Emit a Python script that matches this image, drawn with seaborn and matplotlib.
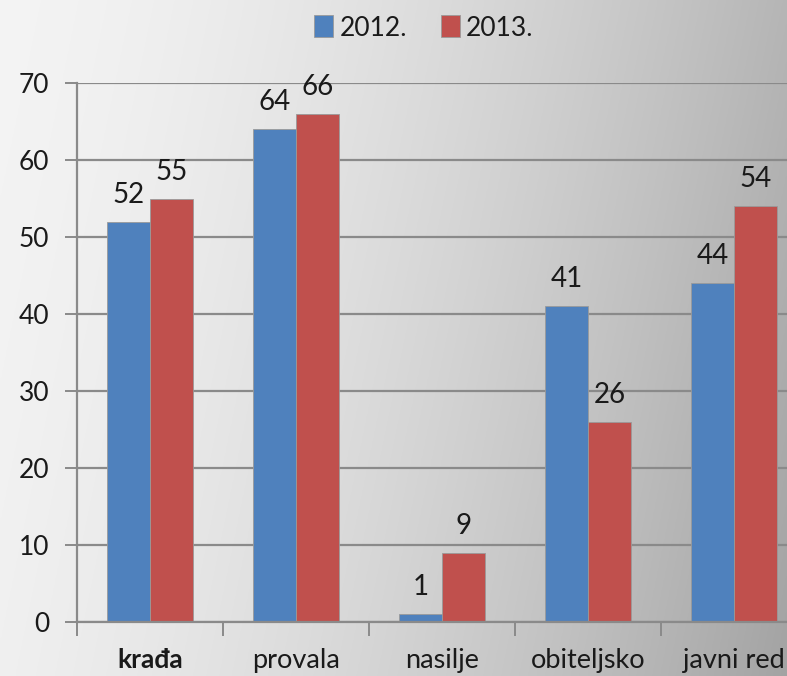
import numpy as np
import pandas as pd
import matplotlib
matplotlib.use("Agg")
import matplotlib.pyplot as plt
import seaborn as sns

categories = ["krađa", "provala", "nasilje", "obiteljsko", "javni red"]
years = ["2012.", "2013."]
values_2012 = [52, 64, 1, 41, 44]
values_2013 = [55, 66, 9, 26, 54]
colors = ["#4F81BD", "#C0504D"]

df = pd.DataFrame({
    "cat": categories * 2,
    "year": [years[0]] * 5 + [years[1]] * 5,
    "val": values_2012 + values_2013,
})

sns.set_theme(style="white")
plt.rcParams["font.family"] = ["Lato", "DejaVu Sans"]

W, H = 787, 676
fig = plt.figure(figsize=(W / 100, H / 100), dpi=100)

# gradient background
bg = fig.add_axes([0, 0, 1, 1])
xx, yy = np.meshgrid(np.linspace(0, 1, 400), np.linspace(0, 1, 400))
g = 0.85 * xx + 0.15 * yy
light = np.array([0.955, 0.955, 0.955])
dark = np.array([0.64, 0.64, 0.64])
t = np.clip(g, 0, 1) ** 1.6
img = light[None, None, :] * (1 - t[..., None]) + dark[None, None, :] * t[..., None]
bg.imshow(img, aspect="auto", extent=[0, 1, 0, 1], origin="upper")
bg.axis("off")

ax = fig.add_axes([77 / W, 1 - 622 / H, (807 - 77) / W, (622 - 83) / H])
ax.patch.set_alpha(0)
sns.barplot(data=df, x="cat", y="val", hue="year", palette=colors, width=0.59,
            saturation=1, ax=ax, edgecolor="#9a9a9a", linewidth=0.6)
ax.set_ylim(0, 70)
ax.set_xlim(-0.5, 4.5)
ax.set_yticks(range(0, 71, 10))
ax.set_xlabel("")
ax.set_ylabel("")
ax.yaxis.grid(True, color="#8a8a8a", linewidth=1.6)
ax.set_axisbelow(True)
for s in ["top", "right"]:
    ax.spines[s].set_visible(False)
for s in ["left", "bottom"]:
    ax.spines[s].set_color("#8a8a8a")
    ax.spines[s].set_linewidth(1.6)

ax.tick_params(axis="y", length=9, width=1.4, color="#8a8a8a", labelsize=19, pad=11, left=True)
ax.set_xticks(range(5))
ax.set_xticklabels(categories, fontsize=19.5)
ax.tick_params(axis="x", length=0, pad=19)
for lab in ax.get_yticklabels():
    lab.set_color("#1a1a1a")
for i, lab in enumerate(ax.get_xticklabels()):
    lab.set_color("#1a1a1a")
    if i == 0:
        lab.set_fontweight("bold")
        lab.set_fontsize(19)
# minor ticks between categories
ax.set_xticks(np.arange(-0.5, 5.0, 1.0), minor=True)
ax.tick_params(axis="x", which="minor", length=10, width=1.4, color="#8a8a8a", bottom=True)

for cont in ax.containers:
    ax.bar_label(cont, padding=10, fontsize=20, color="#1a1a1a")

ax_w = 807 - 77
leg = ax.legend(loc="center", bbox_to_anchor=((424 - 77) / ax_w, 1 + (83 - 28) / (622 - 83)),
                ncol=2, frameon=False, fontsize=19, handlelength=0.7, handleheight=0.9,
                handletextpad=0.25, columnspacing=1.3)
for txt in leg.get_texts():
    txt.set_color("#1a1a1a")

fig.savefig("out.png", dpi=100)
